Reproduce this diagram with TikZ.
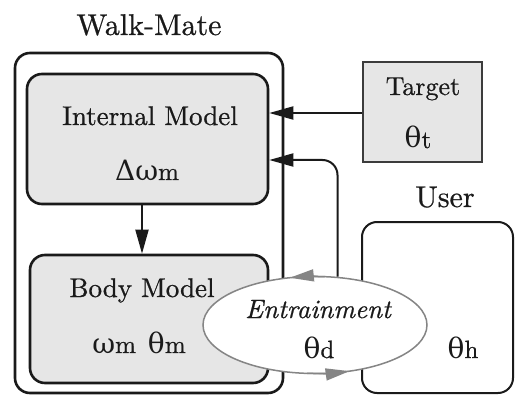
\documentclass[tikz,border=0pt]{standalone}
\usepackage{fontspec}
% Latin Modern at the 10pt design, with a slightly emboldened variant for the labels
\setmainfont{lmroman10-regular.otf}[
  ItalicFont=lmroman10-italic.otf,
  BoldFont=lmroman10-regular.otf,
  BoldFeatures={FakeBold=0.7},
  BoldItalicFont=lmroman10-italic.otf,
  BoldItalicFeatures={FakeBold=0.7}]
\newfontfamily\greekserif{DejaVu Serif}
\usetikzlibrary{arrows.meta,shapes.geometric}
% Greek symbol followed by a smaller upright index letter on the baseline
\newcommand\gsub[2]{{\greekserif\mdseries\fontsize{28}{34}\selectfont #1}{\fontsize{25}{28}\selectfont #2}}
\definecolor{boxfill}{HTML}{E6E6E6}
\definecolor{ink}{HTML}{1A1A1A}
\definecolor{loopgray}{HTML}{858585}
\begin{document}
\begin{tikzpicture}[x=1pt,y=-1pt,
  panel/.style={draw=ink, line width=2.6pt, rounded corners=15pt, inner sep=0pt},
  modelbox/.style={panel, fill=boxfill},
  targetbox/.style={draw=ink!85, line width=1.8pt, fill=boxfill, inner sep=0pt},
  lbl/.style={font=\bfseries\fontsize{27}{32}\selectfont, inner sep=0pt, anchor=base, text=ink},
  arr/.style={draw=ink, line width=2pt, -{Triangle[length=24pt,width=13pt]}},
  gtip/.style={draw=loopgray, line width=1.5pt, -{Triangle[length=24pt,width=12pt]}, fill=loopgray}
]
\useasboundingbox (0,0) rectangle (515,396);

% frames
\node[panel, minimum width=268pt, minimum height=340pt] (wm) at (149,223) {};
\node[modelbox, minimum width=241pt, minimum height=130pt] (im) at (147.5,139) {};
\node[modelbox, minimum width=238pt, minimum height=128pt] (bm) at (149,319) {};
\node[targetbox, minimum width=119pt, minimum height=100pt] (tg) at (422.5,112) {};
\node[panel, line width=2pt, minimum width=151pt, minimum height=171pt] (us) at (437.5,307.5) {};

% connectors
\draw[arr] ([xshift=-5.5pt]im.south) -- ([xshift=-5.5pt]im.south |- bm.north);
\draw[arr] ([yshift=-1pt]tg.west) -- ([yshift=-1pt]tg.west -| im.east);

% entrainment loop
\node[draw=loopgray, line width=1.5pt, fill=white, ellipse, minimum width=224pt, minimum height=97pt, inner sep=0pt] (ent) at (315,325) {};
\draw[arr, rounded corners=15pt] (ent.65) |- ([yshift=-21pt]im.east);
\draw[gtip] ([shift={(85:112pt and 48.5pt)}]ent.center) arc[start angle=85, end angle=103, x radius=112pt, y radius=48.5pt];
\draw[gtip] ([shift={(-94:112pt and 48.5pt)}]ent.center) arc[start angle=-94, end angle=-72, x radius=112pt, y radius=48.5pt];

% labels
\node[lbl, font=\bfseries\fontsize{30}{36}\selectfont] (wmt) at (149,35) {Walk-Mate};
\node[lbl] (imt) at (150,125) {Internal Model};
\node[lbl] (imv) at (147,180) {\gsub{Δω}{m}};
\node[lbl] (bmt) at (142,297) {Body Model};
\node[lbl] (bmv) at (139,353) {\gsub{ω}{m}\hspace{12pt}\gsub{θ}{m}};
\node[lbl, font=\bfseries\fontsize{26}{30}\selectfont] (tgt) at (423,95) {Target};
\node[lbl] (tgv) at (418,148) {\gsub{θ}{t}};
\node[lbl, font=\bfseries\fontsize{30}{34}\selectfont] (ust) at (445,207) {User};
\node[lbl, font=\bfseries\itshape\fontsize{26.5}{32}\selectfont] (entt) at (318,318) {Entrainment};
\node[lbl] (entv) at (319,358) {\gsub{θ}{d}};
\node[lbl] (usv) at (463,358) {\gsub{θ}{h}};
\end{tikzpicture}
\end{document}
